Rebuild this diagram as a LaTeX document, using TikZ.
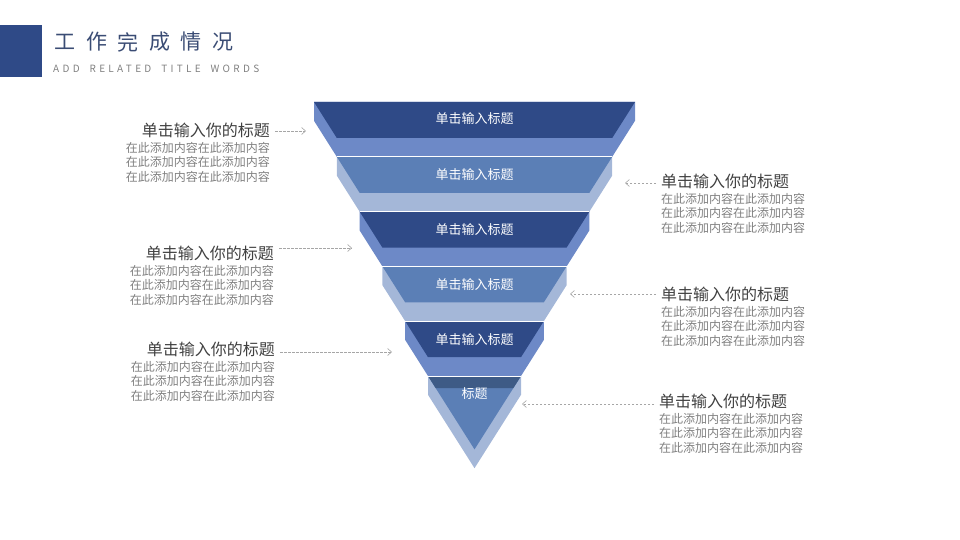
\documentclass[tikz,border=0pt]{standalone}
\usepackage{fontspec}
\setmainfont{Noto Sans CJK SC}
\newfontfamily\subfont[LetterSpace=33,WordSpace=1.8]{Noto Sans CJK SC}
\usetikzlibrary{arrows.meta,positioning}

\definecolor{tierdark}{HTML}{2F4A87}
\definecolor{tiermid}{HTML}{6D89C7}
\definecolor{tierblue}{HTML}{5B7FB6}
\definecolor{tierlight}{HTML}{A4B7D8}
\definecolor{tierstrip}{HTML}{3E5B86}
\definecolor{titleblue}{HTML}{3A4C74}
\definecolor{headgray}{HTML}{404040}
\definecolor{bodygray}{HTML}{808080}
\definecolor{arrowgray}{HTML}{A6A6A6}

\begin{document}
\begin{tikzpicture}[
  x=1pt, y=-1pt,
  facetext/.style={text=white, font=\fontsize{13}{15}\selectfont, inner sep=0pt},
  headtext/.style={text=headgray, font=\fontsize{16}{18}\selectfont, inner sep=2pt},
  bodytext/.style={text=bodygray, font=\fontsize{12}{14.5}\selectfont, inner sep=0pt},
  pointer/.style={draw=arrowgray, line width=0.6pt, dash pattern=on 2.5pt off 1.5pt,
    shorten <=3pt, -{Straight Barb[length=4pt,width=7pt]}}
]
\useasboundingbox (0,0) rectangle (960,540);

% header
\fill[tierdark] (0,25) rectangle (42,77);
\foreach \c [count=\k] in {工,作,完,成,情,况}
  \node[text=titleblue, font=\fontsize{21}{24}\selectfont, inner sep=0pt] (c\k) at ({65+31.6*(\k-1)},42) {\c};
\node[anchor=west, text=bodygray, inner sep=0pt,
  font=\subfont\fontsize{10}{12}\selectfont] (sub) at (53,69) {ADD RELATED TITLE WORDS};

% funnel tiers
\foreach \i/\face/\band in {0/tierdark/tiermid, 1/tierblue/tierlight, 2/tierdark/tiermid, 3/tierblue/tierlight, 4/tierdark/tiermid} {
  \pgfmathsetmacro\yt{102+54.8*\i}
  \pgfmathsetmacro\xl{314+22.8*\i}
  \pgfmathsetmacro\xr{635-22.8*\i}
  \fill[\band] (\xl,\yt) -- (\xr,\yt) -- (\xr,\yt+18.8) -- (\xr-22.8,\yt+54.8)
    -- (\xl+22.8,\yt+54.8) -- (\xl,\yt+18.8) -- cycle;
  \fill[\face] (\xl,\yt) -- (\xr,\yt) -- (\xr-22.8,\yt+36) -- (\xl+22.8,\yt+36) -- cycle;
}
% bottom tip
\fill[tierlight] (428,376) -- (521,376) -- (521,394.8) -- (474.5,468.2) -- (428,394.8) -- cycle;
\fill[tierblue] (428,376) -- (521,376) -- (474.5,449.4) -- cycle;
\fill[tierstrip] (428,376) -- (521,376) -- (513.4,388) -- (435.6,388) -- cycle;
% white seams
\foreach \i in {1,...,5}
  \draw[white, line width=1pt] ({314+22.8*\i},{102+54.8*\i}) -- ({635-22.8*\i},{102+54.8*\i});

\node[facetext] (t1) at (474.5,119) {单击输入标题};
\node[facetext] (t2) at (474.5,175) {单击输入标题};
\node[facetext] (t3) at (474.5,230) {单击输入标题};
\node[facetext] (t4) at (474.5,285) {单击输入标题};
\node[facetext] (t5) at (474.5,340) {单击输入标题};
\node[facetext] (t6) at (474.5,394) {标题};

% arrow targets
\coordinate (a1) at (306,131);
\coordinate (a2) at (625,183);
\coordinate (a3) at (352,248);
\coordinate (a4) at (570,294);
\coordinate (a5) at (392,352);
\coordinate (a6) at (522,404);

% left blocks
\node[headtext, anchor=east] (h1) at (272,130) {单击输入你的标题};
\node[bodytext, align=right, below left=2.5pt and 2pt of h1.south east] (b1)
  {在此添加内容在此添加内容\\在此添加内容在此添加内容\\在此添加内容在此添加内容};
\node[headtext, anchor=east] (h3) at (276,253) {单击输入你的标题};
\node[bodytext, align=right, below left=2.5pt and 2pt of h3.south east] (b3)
  {在此添加内容在此添加内容\\在此添加内容在此添加内容\\在此添加内容在此添加内容};
\node[headtext, anchor=east] (h5) at (277,349) {单击输入你的标题};
\node[bodytext, align=right, below left=2.5pt and 2pt of h5.south east] (b5)
  {在此添加内容在此添加内容\\在此添加内容在此添加内容\\在此添加内容在此添加内容};

% right blocks
\node[headtext, anchor=west] (h2) at (659,181) {单击输入你的标题};
\node[bodytext, align=left, below right=2.5pt and 2pt of h2.south west] (b2)
  {在此添加内容在此添加内容\\在此添加内容在此添加内容\\在此添加内容在此添加内容};
\node[headtext, anchor=west] (h4) at (659,294) {单击输入你的标题};
\node[bodytext, align=left, below right=2.5pt and 2pt of h4.south west] (b4)
  {在此添加内容在此添加内容\\在此添加内容在此添加内容\\在此添加内容在此添加内容};
\node[headtext, anchor=west] (h6) at (657,401) {单击输入你的标题};
\node[bodytext, align=left, below right=2.5pt and 2pt of h6.south west] (b6)
  {在此添加内容在此添加内容\\在此添加内容在此添加内容\\在此添加内容在此添加内容};

% pointers
\draw[pointer] (h1.east |- a1) -- (a1);
\draw[pointer] (h3.east |- a3) -- (a3);
\draw[pointer] (h5.east |- a5) -- (a5);
\draw[pointer] (h2.west |- a2) -- (a2);
\draw[pointer] (h4.west |- a4) -- (a4);
\draw[pointer] (h6.west |- a6) -- (a6);
\end{tikzpicture}
\end{document}
